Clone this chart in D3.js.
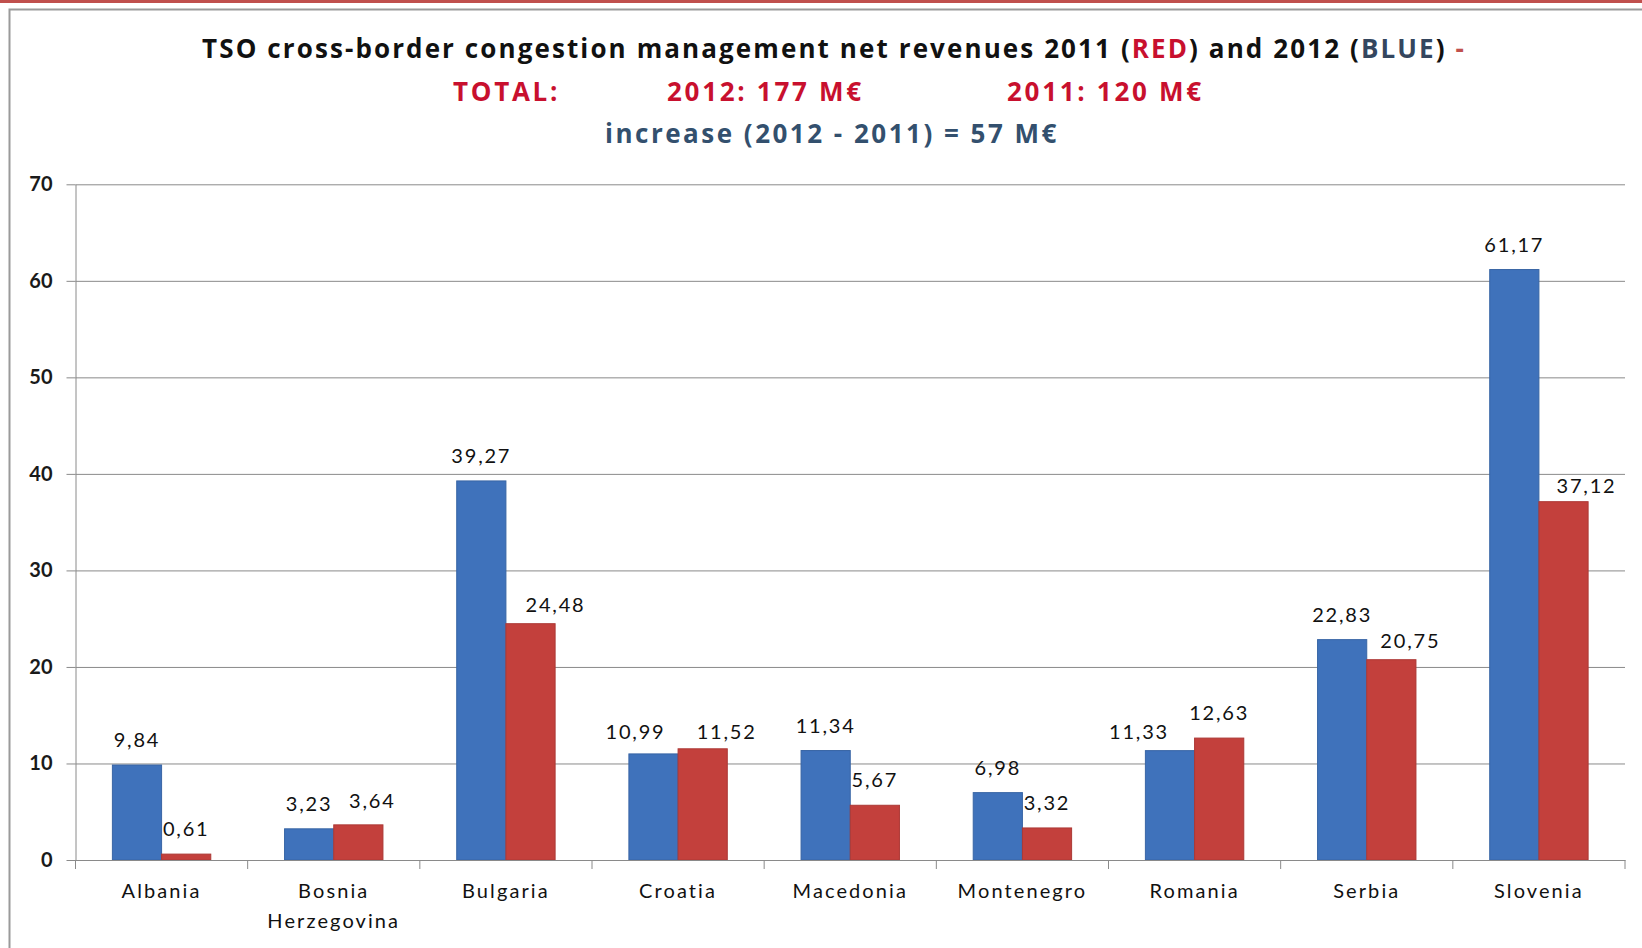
<!DOCTYPE html>
<html>
<head>
<meta charset="utf-8">
<script src="https://cdn.jsdelivr.net/npm/d3@7"></script>
<style>
    html, body { margin: 0; padding: 0; background: #fff; }
    svg { display: block; font-family: Lato, "Open Sans", sans-serif; }
    .ttl { font-family: "Open Sans", Lato, sans-serif; font-size: 26px; font-weight: 700; }
</style>
</head>
<body>
<div id="chart"></div>
<script>
// chart data
const categories = ["Albania", "Bosnia Herzegovina", "Bulgaria", "Croatia", "Macedonia", "Montenegro", "Romania", "Serbia", "Slovenia"];
const series = ["2012", "2011"];
const rev2012 = [9.84, 3.23, 39.27, 10.99, 11.34, 6.98, 11.33, 22.83, 61.17];
const rev2011 = [0.61, 3.64, 24.48, 11.52, 5.67, 3.32, 12.63, 20.75, 37.12];
const yTicks = [0, 10, 20, 30, 40, 50, 60, 70];

// labels that were dragged by hand in the original (px)
const labelNudge2012 = [[0, 0], [0, 0], [0, 0], [-18, 3], [0, 0], [0, 0], [-31, 6], [0, 0], [0, 0]];
const labelNudge2011 = [[0, 0], [14, 1], [25, 6], [24, 8], [0, 0], [0, 0], [0, 0], [19, 6], [23, 9]];

(() => {
    const width = 1642, height = 948;
    const plot = { left: 75.5, right: 1625, top: 184.3, bottom: 860 };
    const colors = { "2012": "#3F72BB", "2011": "#C3403C" };

    const rows = categories.map((c, i) => ({
        cat: c,
        values: [
            { key: "2012", v: rev2012[i], nudge: labelNudge2012[i] },
            { key: "2011", v: rev2011[i], nudge: labelNudge2011[i] }
        ]
    }));

    const svg = d3.select("#chart").append("svg")
        .attr("width", width)
        .attr("height", height);

    // page frame
    svg.append("rect").attr("x", 0).attr("y", 0).attr("width", width).attr("height", 3).attr("fill", "#C0504D");
    svg.append("path")
        .attr("d", `M9.5,${height} V9.5 H${width}`)
        .attr("fill", "none")
        .attr("stroke", "#9a9a9a")
        .attr("stroke-width", 2);

    // title
    const t1 = svg.append("text")
        .attr("class", "ttl")
        .attr("x", 834).attr("y", 58)
        .attr("text-anchor", "middle")
        .style("letter-spacing", "2.1px")
        .attr("fill", "#111");
    t1.append("tspan").text("TSO cross-border  congestion management net revenues 2011 (");
    t1.append("tspan").attr("fill", "#C8102E").text("RED");
    t1.append("tspan").text(") and 2012 (");
    t1.append("tspan").attr("fill", "#34465E").text("BLUE");
    t1.append("tspan").text(") ");
    t1.append("tspan").attr("fill", "#C0504D").text("-");

    const line2 = [["TOTAL:", 453], ["2012: 177 M€", 667], ["2011: 120 M€", 1007]];
    svg.selectAll(".total")
        .data(line2)
        .enter()
        .append("text")
        .attr("class", "ttl total")
        .attr("x", d => d[1]).attr("y", 101)
        .style("letter-spacing", "2.7px")
        .attr("fill", "#C8102E")
        .text(d => d[0]);

    svg.append("text")
        .attr("class", "ttl")
        .attr("x", 832).attr("y", 143)
        .attr("text-anchor", "middle")
        .style("letter-spacing", "2.5px")
        .attr("fill", "#33506E")
        .text("increase (2012 - 2011) = 57 M€");

    // scales
    const x0 = d3.scaleBand().domain(categories).range([plot.left, plot.right]).padding(0);
    const x1 = d3.scaleBand().domain(series).range([0, x0.bandwidth()]).paddingInner(0).paddingOuter(0.75);
    const y = d3.scaleLinear().domain([0, 70]).range([plot.bottom, plot.top]);

    // gridlines
    svg.append("g")
        .attr("transform", `translate(${plot.left},0)`)
        .call(d3.axisLeft(y).tickValues(yTicks).tickSize(-(plot.right - plot.left)).tickFormat(""))
        .call(g => g.select(".domain").remove())
        .call(g => g.selectAll("line").attr("stroke", "#8a8a8a"));

    // y axis
    svg.append("g")
        .attr("transform", `translate(${plot.left},0)`)
        .call(d3.axisLeft(y).tickValues(yTicks).tickSize(9).tickSizeOuter(0).tickPadding(14))
        .call(g => g.select(".domain").attr("stroke", "#8a8a8a"))
        .call(g => g.selectAll("line").attr("stroke", "#8a8a8a"))
        .call(g => g.selectAll("text")
            .attr("fill", "#1a1a1a")
            .style("font-family", "Lato, sans-serif")
            .style("font-size", "20px")
            .style("font-weight", 700));

    // bars
    const groups = svg.selectAll(".grp")
        .data(rows)
        .enter()
        .append("g")
        .attr("class", "grp")
        .attr("transform", d => `translate(${x0(d.cat)},0)`);

    groups.selectAll("rect")
        .data(d => d.values)
        .enter()
        .append("rect")
        .attr("x", d => x1(d.key))
        .attr("y", d => y(d.v))
        .attr("width", x1.bandwidth())
        .attr("height", d => y(0) - y(d.v))
        .attr("fill", d => colors[d.key])
        .attr("stroke", d => d3.color(colors[d.key]).darker(0.35))
        .attr("stroke-width", 1);

    // value labels
    const fmt = v => d3.format(".2f")(v).replace(".", ",");
    groups.selectAll(".val")
        .data(d => d.values)
        .enter()
        .append("text")
        .attr("class", "val")
        .attr("x", d => x1(d.key) + x1.bandwidth() / 2 + d.nudge[0])
        .attr("y", d => y(d.v) - 18 + d.nudge[1])
        .attr("text-anchor", "middle")
        .style("font-size", "20px")
        .style("letter-spacing", "1.8px")
        .attr("fill", "#111")
        .text(d => fmt(d.v));

    // x axis
    const xAxis = svg.append("g")
        .attr("transform", `translate(0,${plot.bottom})`)
        .call(d3.axisBottom(x0).tickSize(0).tickSizeOuter(0).tickPadding(24))
        .call(g => g.select(".domain").attr("stroke", "#8a8a8a"));

    xAxis.selectAll("text")
        .attr("fill", "#111")
        .style("font-family", "Lato, sans-serif")
        .style("font-size", "20px")
        .style("letter-spacing", "2.1px")
        .each(function (d) {
            const el = d3.select(this);
            if (this.getComputedTextLength() > x0.bandwidth() * 0.9) {
                const words = d.split(" ");
                el.text(null);
                words.forEach((w, i) => {
                    el.append("tspan").attr("x", 0).attr("dy", i === 0 ? "0.71em" : "1.5em").text(w);
                });
                el.attr("dy", null);
            }
        });

    // category boundary ticks
    const bounds = d3.range(categories.length + 1).map(i => plot.left + i * x0.step());
    svg.selectAll(".btick")
        .data(bounds)
        .enter()
        .append("line")
        .attr("class", "btick")
        .attr("x1", d => d).attr("x2", d => d)
        .attr("y1", plot.bottom).attr("y2", plot.bottom + 9)
        .attr("stroke", "#8a8a8a");
})();
</script>
</body>
</html>
